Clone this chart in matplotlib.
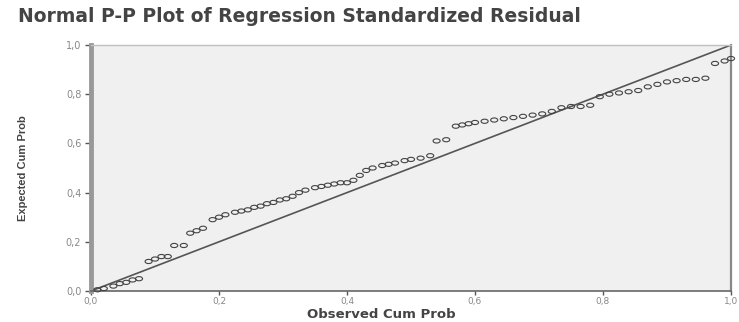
import matplotlib
matplotlib.use("Agg")
import matplotlib.pyplot as plt
from matplotlib.path import Path
from matplotlib.transforms import Affine2D

observed = [0.01, 0.02, 0.035, 0.045, 0.055, 0.065, 0.075, 0.09, 0.10, 0.11,
            0.12, 0.13, 0.145, 0.155, 0.165, 0.175, 0.19, 0.20, 0.21, 0.225,
            0.235, 0.245, 0.255, 0.265, 0.275, 0.285, 0.295, 0.305, 0.315, 0.325,
            0.335, 0.35, 0.36, 0.37, 0.38, 0.39, 0.40, 0.41, 0.42, 0.43,
            0.44, 0.455, 0.465, 0.475, 0.49, 0.50, 0.515, 0.53, 0.54, 0.555,
            0.57, 0.58, 0.59, 0.60, 0.615, 0.63, 0.645, 0.66, 0.675, 0.69,
            0.705, 0.72, 0.735, 0.75, 0.765, 0.78, 0.795, 0.81, 0.825, 0.84,
            0.855, 0.87, 0.885, 0.90, 0.915, 0.93, 0.945, 0.96, 0.975, 0.99, 1.0]
expected = [0.005, 0.01, 0.02, 0.03, 0.035, 0.045, 0.05, 0.12, 0.13, 0.14,
            0.14, 0.185, 0.185, 0.235, 0.245, 0.255, 0.29, 0.30, 0.31, 0.32,
            0.325, 0.33, 0.34, 0.345, 0.355, 0.36, 0.37, 0.375, 0.385, 0.40,
            0.41, 0.42, 0.425, 0.43, 0.435, 0.44, 0.44, 0.45, 0.47, 0.49,
            0.50, 0.51, 0.515, 0.52, 0.53, 0.535, 0.54, 0.55, 0.61, 0.615,
            0.67, 0.675, 0.68, 0.685, 0.69, 0.695, 0.70, 0.705, 0.71, 0.715,
            0.72, 0.73, 0.745, 0.75, 0.75, 0.755, 0.79, 0.80, 0.805, 0.81,
            0.815, 0.83, 0.84, 0.85, 0.855, 0.86, 0.86, 0.865, 0.925, 0.935, 0.945]
ref_line = [0.0, 1.0]
ticks = [0.0, 0.2, 0.4, 0.6, 0.8, 1.0]
tick_labels = ["0,0", "0,2", "0,4", "0,6", "0,8", "1,0"]

fig = plt.figure(figsize=(7.39, 3.22), dpi=100)
ax = fig.add_axes([91/739, 31/322, 640/739, 246/322])
ax.set_facecolor("#f0f0f0")

ax.plot(ref_line, ref_line, color="#555555", lw=1.2, zorder=2)

circ = Path.unit_circle()
ell = Path(Affine2D().scale(1.7, 1.0).transform(circ.vertices), circ.codes)
ax.scatter(observed, expected, marker=ell, s=26, facecolors="none",
           edgecolors="#444444", linewidths=0.8, zorder=3, clip_on=False)

ax.set_xlim(0, 1)
ax.set_ylim(0, 1)
ax.set_xticks(ticks)
ax.set_xticklabels(tick_labels)
ax.set_yticks(ticks)
ax.set_yticklabels(tick_labels)
ax.tick_params(axis="both", width=1, color="#555555",
               labelsize=7, labelcolor="#888888")
ax.tick_params(axis="x", pad=1, length=3, labelsize=6.5)
ax.tick_params(axis="y", pad=3, length=4)

for side, col, lw in [("top", "#c0c0c0", 1.0), ("right", "#888888", 1.6),
                      ("left", "#999999", 3.5), ("bottom", "#666666", 1.2)]:
    ax.spines[side].set_color(col)
    ax.spines[side].set_linewidth(lw)

ax.set_xlabel("Observed Cum Prob", fontsize=9.5, fontweight="bold",
              color="#444444")
ax.xaxis.set_label_coords((381 - 91)/640, -(315 - 291)/246)
ax.xaxis.label.set_va("center")
ax.set_ylabel("Expected Cum Prob", fontsize=8, fontweight="bold",
              color="#444444", family=["Liberation Sans", "DejaVu Sans"])
ax.yaxis.set_label_coords(-(91 - 23)/640, (291 - 168)/246)
ax.yaxis.label.set_va("center")

fig.text(18/739, 1 - 16/322, "Normal P-P Plot of Regression Standardized Residual",
         fontsize=13.5, fontweight="bold", color="#444444", va="center", ha="left")

fig.savefig("out.png", dpi=100)
